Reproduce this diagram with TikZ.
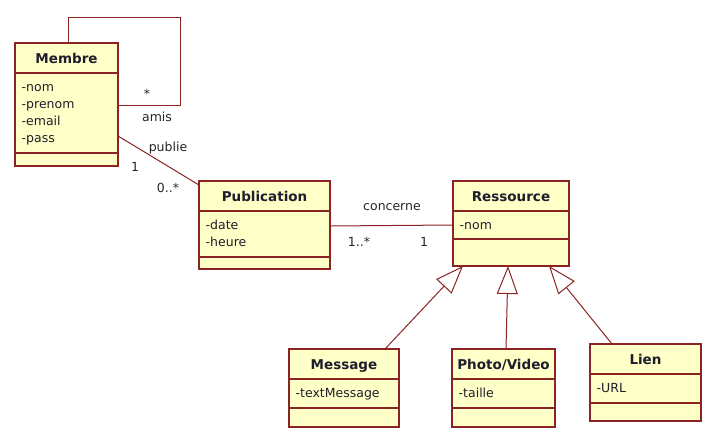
\documentclass[tikz,border=0pt]{standalone}
\usepackage{fontspec}
\setmainfont{DejaVu Sans}
\usepackage{tikz}
\usetikzlibrary{arrows.meta}
\usetikzlibrary{positioning}
\definecolor{umlred}{RGB}{140,35,35}
\definecolor{umlfill}{RGB}{255,255,200}
\definecolor{umltext}{RGB}{30,30,45}
\tikzset{classbox/.style={draw=umlred, fill=umlfill, line width=1.1pt, inner sep=0pt, outer sep=0pt},
	classline/.style={draw=umlred, line width=1.1pt},
	classtitle/.style={text=umltext, font=\bfseries\fontsize{13.5}{16}\selectfont, anchor=base, inner sep=0pt},
	attr/.style={text=umltext, font=\fontsize{12.5}{15}\selectfont, anchor=base west, inner sep=0pt},
	lbl/.style={text=black!85, font=\fontsize{12.5}{15}\selectfont, anchor=base, inner sep=0pt},
	assoc/.style={draw=umlred, line width=1pt},
	gen/.style={draw=umlred, line width=1pt, -{Triangle[open, length=28pt, width=21pt]}}}
% name, left, top, width, title h, attribute h, method h, title, attributes
\newcommand{\umlclass}[9]{\node[classbox, anchor=north west, minimum width=#4pt, minimum height=#5pt+#6pt+#7pt] (#1) at (#2,#3) {};
			\draw[classline] ([yshift=-#5pt]#1.north west) -- ([yshift=-#5pt]#1.north east);
			\draw[classline] ([yshift={-#5pt-#6pt}]#1.north west) -- ([yshift={-#5pt-#6pt}]#1.north east);
			\node[classtitle] at ([yshift=-20.5pt]#1.north) {#8};
			\foreach \x [count=\i from 0] in {#9}
				\node[attr] at ([xshift=6.5pt, yshift={-#5pt-18.5pt-17pt*\i}]#1.north west) {\x};}

\begin{document}
\begin{tikzpicture}[x=1pt, y=1pt]

					\useasboundingbox (0,0) rectangle (717,445);

					\umlclass{membre}{15}{402}{103}{30}{80}{13}{Membre}{-nom,-prenom,-email,-pass}
					\umlclass{publication}{199}{264}{131}{30}{46}{12}{Publication}{-date,-heure}
					\umlclass{ressource}{453}{264}{116}{30}{28}{27}{Ressource}{-nom}
					\umlclass{message}{289}{96}{110}{30}{29}{19}{Message}{-textMessage}
					\umlclass{photo}{452}{96}{103}{30}{29}{19}{Photo/Video}{-taille}
					\umlclass{lien}{590}{101}{111}{30}{29}{18}{Lien}{-URL}

					% amis
					\coordinate (amisloop) at (180,427);
					\draw[assoc] ([xshift=53pt]membre.north west) |- (amisloop) |- ([yshift=-63pt]membre.north east);
					\node[lbl] (amisstar) at (147,346) {*};
					\node[lbl] (amis) at (157,323.3) {amis};

					% publie
					\draw[assoc] ([yshift=-93pt]membre.north east) -- ([yshift=-4pt]publication.north west);
					\node[lbl] (publie) at (168,293.3) {publie};
					\node[lbl] (publieone) at (135,273.3) {1};
					\node[lbl] (publiemany) at (168,252.3) {0..*};

					% concerne
					\draw[assoc] ([yshift=-1pt]publication.east) -- ([yshift=-1.5pt]ressource.west);
					\node[lbl] (concerne) at (392,234.3) {concerne};
					\node[lbl] (concernemany) at (359,198.3) {1..*};
					\node[lbl] (concerneone) at (424,198.3) {1};

					% heritage
					\draw[gen] ([xshift=96pt]message.north west) -- ([xshift=10pt]ressource.south west);
					\draw[gen] ([xshift=54pt]photo.north west) -- ([xshift=55pt]ressource.south west);
					\draw[gen] ([xshift=22pt]lien.north west) -- ([xshift=96pt]ressource.south west);

\end{tikzpicture}
\end{document}
